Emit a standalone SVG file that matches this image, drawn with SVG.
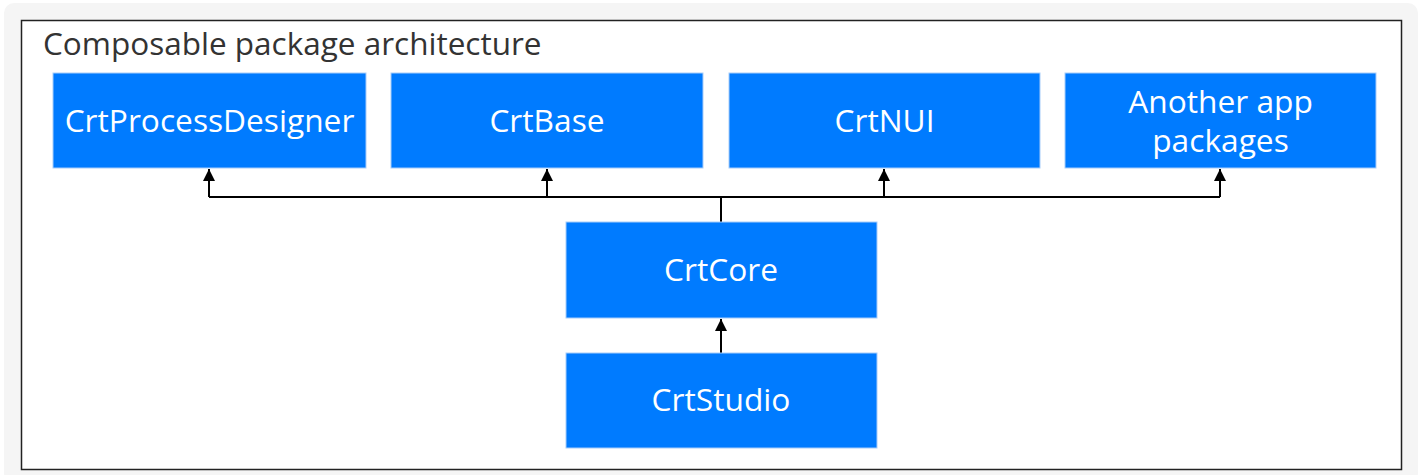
<svg xmlns="http://www.w3.org/2000/svg" width="1418" height="475" viewBox="0 0 1418 475">
<defs>
<style>
.node rect{fill:#007bff;stroke:#a8cdfa;stroke-width:1}
.node text{fill:#ffffff;font-family:"Open Sans","Noto Sans",sans-serif;font-size:31.7px;text-anchor:middle}
.conn{stroke:#000;stroke-width:2;fill:none}
</style>
<marker id="ah" viewBox="0 0 10 10" refX="10" refY="5" markerWidth="12" markerHeight="12" orient="auto" markerUnits="userSpaceOnUse">
<path d="M0,0 L10,5 L0,10 z" fill="#000"/>
</marker>
</defs>
<rect x="0" y="0" width="1418" height="475" fill="#ffffff"/>
<rect x="4" y="3" width="1414" height="480" rx="10" fill="#f5f5f5"/>
<rect x="21.5" y="20.5" width="1380" height="449" fill="#ffffff" stroke="#222" stroke-width="1.5"/>
<text x="43" y="55" font-family="'Open Sans','Noto Sans',sans-serif" font-size="31.5" fill="#333">Composable package architecture</text>
<g id="conns">
<path class="conn" d="M209,197 H1220"/>
<path class="conn" d="M721,222 V197"/>
<path class="conn" d="M209,197 V169" marker-end="url(#ah)"/>
<path class="conn" d="M547,197 V169" marker-end="url(#ah)"/>
<path class="conn" d="M884,197 V169" marker-end="url(#ah)"/>
<path class="conn" d="M1220,197 V169" marker-end="url(#ah)"/>
<path class="conn" d="M721,353 V319" marker-end="url(#ah)" stroke="#555"/>
</g>
<g id="n1" class="node"><rect x="53" y="73" width="313" height="95"/><text x="209.5" y="132">CrtProcessDesigner</text></g>
<g id="n2" class="node"><rect x="391" y="73" width="312" height="95"/><text x="547" y="132">CrtBase</text></g>
<g id="n3" class="node"><rect x="729" y="73" width="311" height="95"/><text x="884.5" y="132">CrtNUI</text></g>
<g id="n4" class="node"><rect x="1065" y="73" width="311" height="95"/><text x="1220.5" y="113">Another app</text><text x="1220.5" y="152">packages</text></g>
<g id="n5" class="node"><rect x="566" y="222" width="311" height="96"/><text x="721" y="281">CrtCore</text></g>
<g id="n6" class="node"><rect x="566" y="353" width="311" height="95"/><text x="721" y="411">CrtStudio</text></g>
</svg>
